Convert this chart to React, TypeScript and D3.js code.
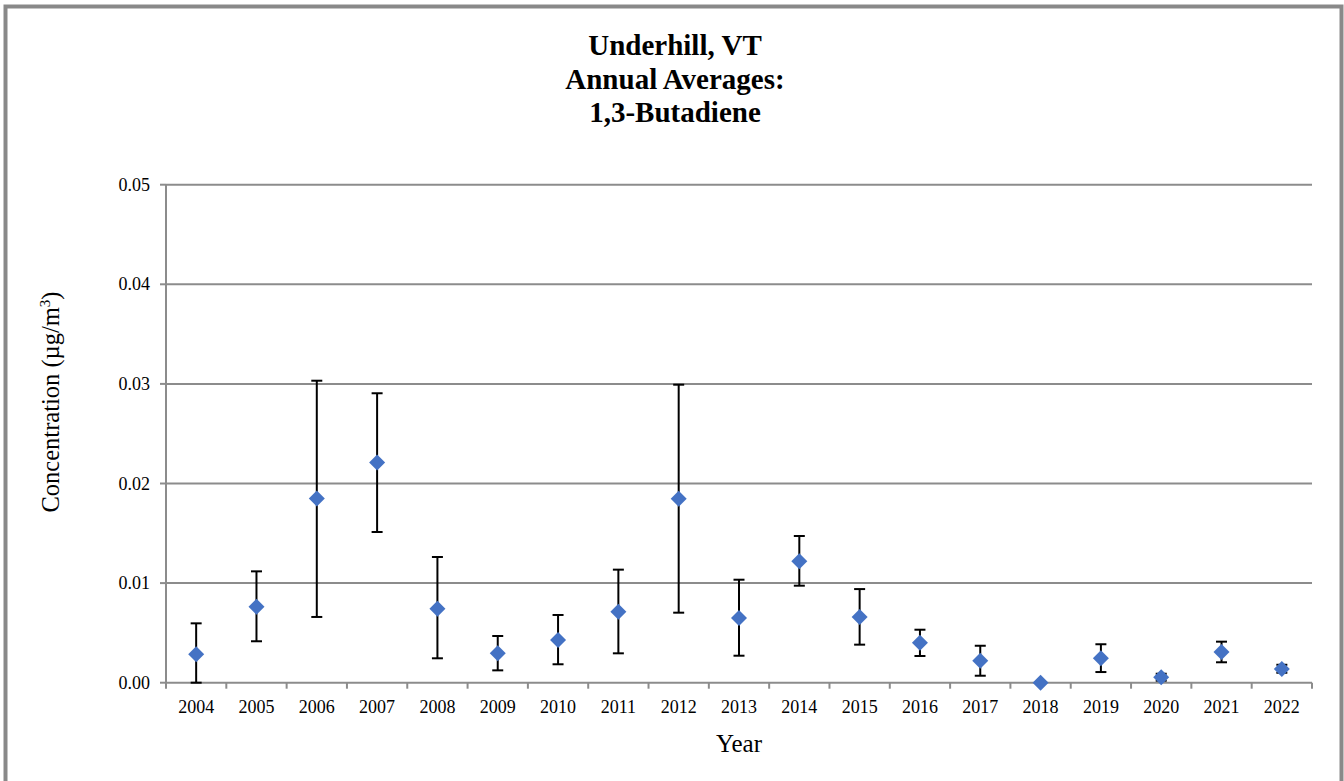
import React from 'react'
import * as d3 from 'd3'

const years = ['2004', '2005', '2006', '2007', '2008', '2009', '2010', '2011', '2012', '2013', '2014', '2015', '2016', '2017', '2018', '2019', '2020', '2021', '2022']
const means = [0.00285, 0.00763, 0.0185, 0.0221, 0.00743, 0.00295, 0.00429, 0.00713, 0.01848, 0.0065, 0.01219, 0.0066, 0.00402, 0.00221, 0.0, 0.00245, 0.00054, 0.00308, 0.00138]
const upper = [0.00596, 0.01118, 0.03032, 0.02906, 0.01262, 0.00469, 0.0068, 0.01135, 0.02992, 0.01034, 0.01473, 0.0094, 0.00532, 0.00371, 0.0, 0.00386, 0.0009, 0.00412, 0.0018]
const lower = [0.0, 0.00416, 0.0066, 0.01513, 0.00245, 0.00124, 0.00185, 0.00295, 0.00703, 0.00271, 0.00974, 0.00382, 0.00268, 0.0007, 0.0, 0.00107, 0.0002, 0.00205, 0.001]
const yTicks = [0, 0.01, 0.02, 0.03, 0.04, 0.05]
const titleLines = ['Underhill, VT', 'Annual Averages:', '1,3-Butadiene']

const W = 1344
const H = 781
const font = '"Liberation Serif", "Times New Roman", serif'
const grey = '#8c8c8c'

export default function App() {
  const x = d3.scaleBand().domain(years).range([166, 1312]).padding(0)
  const y = d3.scaleLinear().domain([0, 0.05]).range([682.7, 184.7])
  const bw = x.bandwidth()
  const diamond = d3.symbol(d3.symbolSquare, 128)()

  return (
    <svg width={W} height={H} style={{ position: 'absolute', left: 0, top: 0, background: '#fff' }} fontFamily={font}>
      <rect x={5.5} y={6.5} width={1336} height={H + 20} fill="none" stroke="#898989" strokeWidth={4} />

      {titleLines.map((t, i) => (
        <text key={t} x={675} y={55 + i * 33.5} textAnchor="middle" fontSize={29} fontWeight="bold">{t}</text>
      ))}

      {/* gridlines */}
      {yTicks.filter(t => t > 0).map(t => (
        <line key={t} x1={166} x2={1312} y1={y(t)} y2={y(t)} stroke={grey} strokeWidth={2} />
      ))}

      {/* y axis */}
      <line x1={166} x2={166} y1={y(0.05)} y2={y(0)} stroke={grey} strokeWidth={2} />
      {yTicks.map(t => (
        <g key={t}>
          <line x1={160} x2={166} y1={y(t)} y2={y(t)} stroke={grey} strokeWidth={2} />
          <text x={150} y={y(t)} dy="0.34em" textAnchor="end" fontSize={18}>{t.toFixed(2)}</text>
        </g>
      ))}

      {/* x axis */}
      <line x1={166} x2={1312} y1={y(0)} y2={y(0)} stroke={grey} strokeWidth={2} />
      {[...years.map(d => x(d) as number), 1312].map((p, i) => (
        <line key={i} x1={p} x2={p} y1={y(0)} y2={y(0) + 6} stroke={grey} strokeWidth={2} />
      ))}
      {years.map(d => (
        <text key={d} x={(x(d) as number) + bw / 2} y={712.5} textAnchor="middle" fontSize={18}>{d}</text>
      ))}

      <text x={(166 + 1312) / 2} y={751.5} textAnchor="middle" fontSize={25}>Year</text>
      <text transform={`translate(59,402) rotate(-90)`} textAnchor="middle" fontSize={24.5}>
        Concentration (µg/m<tspan dy={-9} fontSize={15}>3</tspan><tspan dy={9}>)</tspan>
      </text>

      {/* error bars */}
      {years.map((d, i) => {
        const cx = (x(d) as number) + bw / 2
        if (upper[i] === lower[i]) return null
        return (
          <g key={d} stroke="#000" strokeWidth={2}>
            <line x1={cx} x2={cx} y1={y(upper[i])} y2={y(lower[i])} />
            <line x1={cx - 5.5} x2={cx + 5.5} y1={y(upper[i])} y2={y(upper[i])} />
            <line x1={cx - 5.5} x2={cx + 5.5} y1={y(lower[i])} y2={y(lower[i])} />
          </g>
        )
      })}

      {/* means */}
      {years.map((d, i) => (
        <path key={d} d={diamond || ''} fill="#4472C4"
          transform={`translate(${(x(d) as number) + bw / 2},${y(means[i])}) rotate(45)`} />
      ))}
    </svg>
  )
}
